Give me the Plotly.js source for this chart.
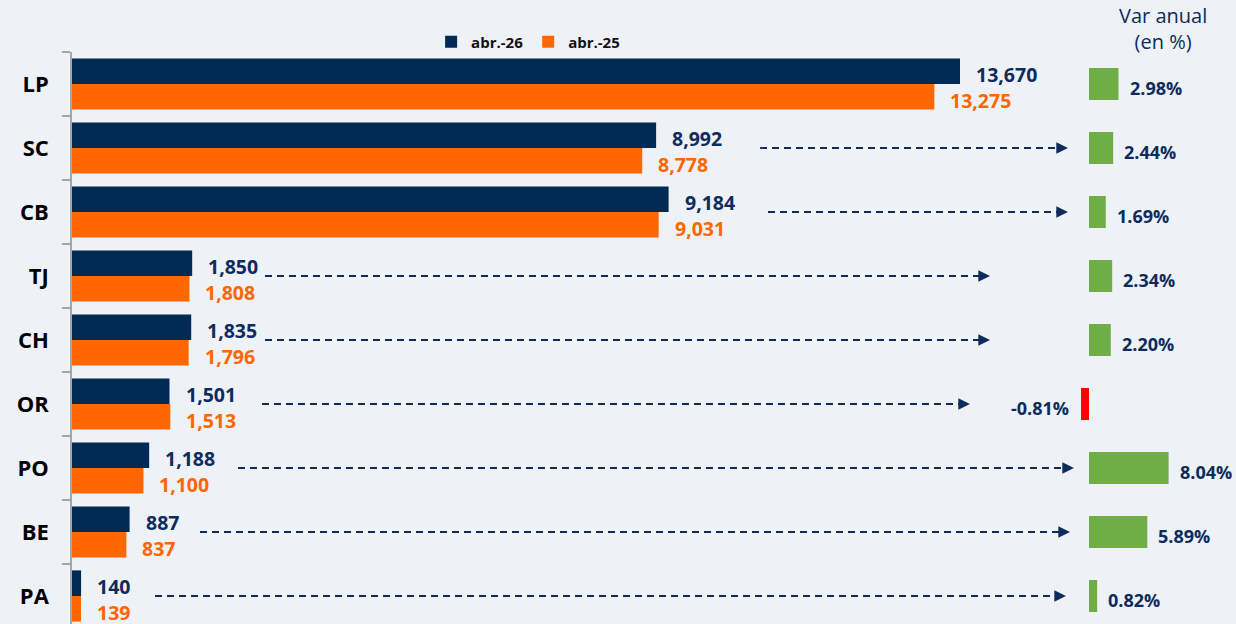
<!DOCTYPE html>
<html>
<head>
<meta charset="utf-8">
<script src="https://cdn.plot.ly/plotly-3.0.1.min.js"></script>
<style>
html,body{margin:0;padding:0;overflow:hidden;background:#eef1f5;}
#chart{width:1236px;height:632px;}
</style>
</head>
<body>
<div id="chart"></div>
<script>
// ---- data ----
const categories = ["LP","SC","CB","TJ","CH","OR","PO","BE","PA"];
const seriesNames = ["abr.-26","abr.-25"];
const values26 = [13670, 8992, 9184, 1850, 1835, 1501, 1188, 887, 140];
const values25 = [13275, 8778, 9031, 1808, 1796, 1513, 1100, 837, 139];
const varAnual = [2.98, 2.44, 1.69, 2.34, 2.20, -0.81, 8.04, 5.89, 0.82];
const varTitle = "Var anual<br>(en %)";

// ---- styling / layout config ----
const W = 1236, H = 632;
const navy = "#012b55", orange = "#ff6600", green = "#70ad47", red = "#ff0000";
const textNavy = "#0d2b5c";
const font = "Open Sans, DejaVu Sans, sans-serif";
// decorative dashed arrows: [category index, start px, tip px]
const arrows = [[1,760,1068],[2,768,1068],[3,265,990],[4,265,990],[5,262,970],[6,238,1074],[7,200,1070],[8,155,1066]];

const mL = 72, plotW = W - mL;
const pxPerUnit = 888/13670;
const pxPerPct = 9.9, zeroPx = 1089 - mL;

const fmt = v => v.toLocaleString("en-US");
const px2paper = px => (px - mL)/plotW;

const traces = [
  {type:"bar", orientation:"h", name:seriesNames[0], y:categories, x:values26,
   marker:{color:navy}, hoverinfo:"x", xaxis:"x", yaxis:"y"},
  {type:"bar", orientation:"h", name:seriesNames[1], y:categories, x:values25,
   marker:{color:orange}, hoverinfo:"x", xaxis:"x", yaxis:"y"},
  {type:"bar", orientation:"h", name:"Var anual", y:categories, x:varAnual, width:0.5,
   marker:{color:varAnual.map(v => v < 0 ? red : green)}, showlegend:false,
   hoverinfo:"x", xaxis:"x2", yaxis:"y"}
];

const annotations = [];
categories.forEach((c,i) => {
  annotations.push({xref:"x", yref:"y", x:values26[i], y:c, text:"<b>"+fmt(values26[i])+"</b>",
    showarrow:false, xanchor:"left", xshift:14, yshift:10, font:{family:font,size:19.5,color:textNavy}});
  annotations.push({xref:"x", yref:"y", x:values25[i], y:c, text:"<b>"+fmt(values25[i])+"</b>",
    showarrow:false, xanchor:"left", xshift:14, yshift:-16, font:{family:font,size:19.5,color:orange}});
  const v = varAnual[i];
  annotations.push({xref:"x2", yref:"y", x:v, y:c, text:"<b>"+v.toFixed(2)+"%</b>",
    showarrow:false, xanchor:v<0?"right":"left", xshift:v<0?-10:9, yshift:-4,
    font:{family:font,size:18,color:textNavy}});
});
const shapes = [];
arrows.forEach(([i,s,t]) => {
  shapes.push({type:"line", xref:"paper", yref:"y", x0:px2paper(s), x1:px2paper(t-8), y0:i, y1:i,
    line:{color:textNavy, width:1.8, dash:"7px,5px"}});
  annotations.push({xref:"paper", yref:"y", x:px2paper(t), y:i, ax:-12, ay:0, text:"",
    showarrow:true, arrowhead:2, arrowsize:1.3, arrowwidth:1.8, arrowcolor:textNavy});
});
annotations.push({xref:"paper", yref:"paper", x:px2paper(1163), xanchor:"center", y:1+(52-29)/576, yanchor:"middle",
  text:varTitle, showarrow:false, font:{family:font,size:20,color:textNavy}});

const layout = {
  width:W, height:H,
  margin:{l:mL, r:0, t:52, b:4, autoexpand:false},
  paper_bgcolor:"#eef1f5", plot_bgcolor:"rgba(0,0,0,0)",
  barmode:"group", bargap:0.2, bargroupgap:0,
  font:{family:font},
  showlegend:true,
  legend:{orientation:"h", xref:"container", x:441/W - 0.008, y:1+10/576, yanchor:"middle",
    font:{family:font,size:15,color:"#111",weight:"bold"}, bgcolor:"rgba(0,0,0,0)", itemclick:false},
  xaxis:{range:[0, plotW/pxPerUnit], showgrid:false, zeroline:false, showticklabels:false, showline:false,
    fixedrange:true, automargin:false},
  xaxis2:{overlaying:"x", range:[-zeroPx/pxPerPct, (plotW-zeroPx)/pxPerPct], showgrid:false, zeroline:false,
    showticklabels:false, showline:false, fixedrange:true, automargin:false},
  yaxis:{autorange:"reversed", type:"category", showline:true, linecolor:"#a6a6a6", linewidth:1.5,
    ticks:"outside", tickson:"boundaries", ticklen:8, tickcolor:"#a6a6a6", tickwidth:1.5,
    ticklabelstandoff:17, automargin:false,
    tickfont:{family:font,size:22,color:"#000",weight:"bold"}, showgrid:false, fixedrange:true},
  annotations:annotations, shapes:shapes
};
Plotly.newPlot("chart", traces, layout, {displayModeBar:false});
</script>
</body>
</html>
